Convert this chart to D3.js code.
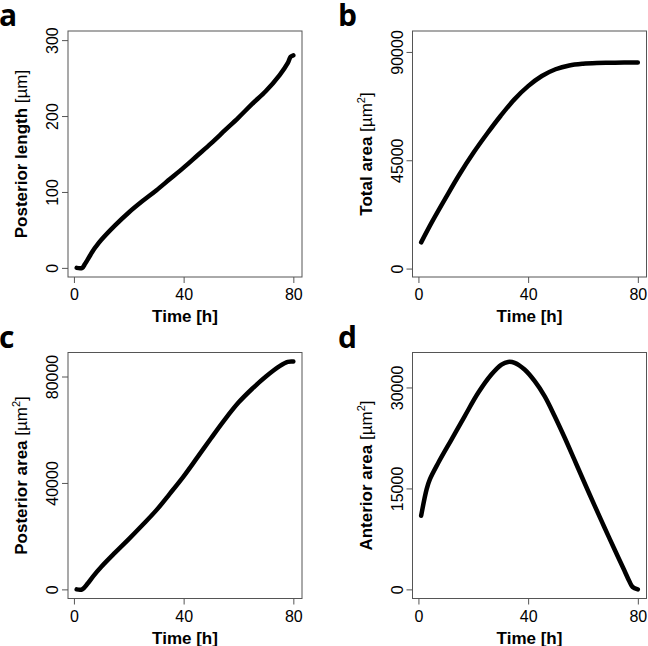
<!DOCTYPE html>
<html>
<head>
  <meta charset="UTF-8">
  <title>Growth curves</title>
  <style>
    body { margin: 0; background: #fff; }
    .box { fill: none; stroke: #555; stroke-width: 1; }
    .axis path { display: none; }
    .axis line { stroke: #555; }
    .axis text { font-family: "Liberation Sans", Arial, sans-serif; font-size: 16px; fill: #000; }
    .title { font-family: "Liberation Sans", Arial, sans-serif; font-size: 17px; font-weight: bold; fill: #000; }
    .panel-label { font-family: "Open Sans", sans-serif; font-size: 30px; font-weight: 700; fill: #000; }
    .curve { fill: none; stroke: #000; stroke-width: 4.5; stroke-linecap: round; stroke-linejoin: round; }
  </style>
</head>
<body>
<svg id="chart"></svg>
<script src="https://d3js.org/d3.v7.min.js"></script>
<script>

// data (time in hours)
var timeA = [1, 3, 4, 5, 6, 7, 8, 10, 15, 20, 25, 30, 35, 40, 45, 50, 55, 60, 65, 70, 75, 78, 79, 80];
var posteriorLength = [0, 0, 5, 11, 17, 23, 28, 37, 56, 73, 88, 102, 117, 132, 148, 164, 181, 198, 216, 233, 254, 270, 278, 280];

var timeB = [1, 5, 10, 15, 20, 25, 30, 35, 40, 45, 50, 55, 60, 65, 70, 75, 80];
var totalArea = [10900, 19500, 29500, 39200, 48000, 56000, 63500, 70300, 75800, 80000, 82800, 84400, 85100, 85400, 85500, 85600, 85600];

var timeC = [1, 3, 5, 7, 10, 15, 20, 25, 30, 35, 40, 45, 50, 55, 60, 65, 70, 75, 78, 80];
var posteriorArea = [0, 0, 2200, 4900, 8500, 13800, 18900, 24200, 29700, 36000, 42500, 49600, 56800, 63800, 70200, 75400, 80000, 83900, 85500, 85600];

var timeD = [1, 3, 4.2, 7.3, 12.1, 16.9, 21.8, 26.6, 30.3, 32.7, 35.1, 38.7, 42.4, 46, 49.6, 53.3, 56.9, 60.5, 64.2, 67.8, 71.4, 75.1, 76.9, 78.1, 80];
var anteriorArea = [10950, 14900, 16380, 18850, 22300, 25750, 29200, 31920, 33400, 33790, 33650, 32660, 30930, 28710, 25800, 22560, 19230, 15880, 12480, 9240, 6040, 2800, 1200, 350, 0];

var timeTicks = [0, 40, 80];
var ticksA = [0, 100, 200, 300];
var ticksB = [0, 45000, 90000];
var ticksC = [0, 40000, 80000];
var ticksD = [0, 15000, 30000];

let width = 648, height = 646;
let svg = d3.select("#chart").attr("width", width).attr("height", height);

var panelW = 234, panelH = 246;
var lefts = [68, 412.5], tops = [31, 352.5];
var labelX = [-1, 338];

var panels = [
  {label: "a", col: 0, row: 0, t: timeA, v: posteriorLength, ticks: ticksA, ydom: [-12, 312], name: "Posterior length ", sup: false},
  {label: "b", col: 1, row: 0, t: timeB, v: totalArea, ticks: ticksB, ydom: [-3500, 98700], name: "Total area ", sup: true},
  {label: "c", col: 0, row: 1, t: timeC, v: posteriorArea, ticks: ticksC, ydom: [-3424, 89024], name: "Posterior area ", sup: true},
  {label: "d", col: 1, row: 1, t: timeD, v: anteriorArea, ticks: ticksD, ydom: [-1354, 35194], name: "Anterior area ", sup: true}
];

panels.forEach(function(p) {
  var left = lefts[p.col], top = tops[p.row];
  var g = svg.append("g").attr("transform", "translate(" + left + "," + top + ")");

  var x = d3.scaleLinear().domain([-2.16, 83.16]).range([0, panelW]);
  var y = d3.scaleLinear().domain(p.ydom).range([panelH, 0]);

  // x axis
  var xa = g.append("g").attr("class", "axis")
    .attr("transform", "translate(0," + panelH + ")")
    .call(d3.axisBottom(x).tickValues(timeTicks).tickSize(6).tickSizeOuter(0));
  xa.selectAll("text").attr("y", 23).attr("dy", 0);

  // y axis, labels turned like R's default
  var ya = g.append("g").attr("class", "axis")
    .call(d3.axisLeft(y).tickValues(p.ticks).tickSize(6).tickSizeOuter(0).tickFormat(d3.format("d")));
  ya.selectAll("text")
    .attr("x", 0).attr("y", 0).attr("dy", 0)
    .attr("text-anchor", "middle")
    .attr("transform", "translate(-10,0) rotate(-90)");

  g.append("rect").attr("class", "box").attr("x", 0).attr("y", 0).attr("width", panelW).attr("height", panelH);

  var line = d3.line()
    .x(function(d, i) { return x(p.t[i]); })
    .y(function(d) { return y(d); })
    .curve(d3.curveCatmullRom.alpha(0.5));
  g.append("path").attr("class", "curve").attr("d", line(p.v));

  // titles
  g.append("text").attr("class", "title")
    .attr("x", panelW / 2).attr("y", panelH + 45)
    .attr("text-anchor", "middle").text("Time [h]");

  var yt = g.append("text").attr("class", "title")
    .attr("text-anchor", "middle")
    .attr("transform", "translate(-41," + (panelH / 2) + ") rotate(-90)");
  yt.append("tspan").text(p.name);
  yt.append("tspan").attr("font-weight", "normal").text("[\u00b5m");
  if (p.sup) {
    yt.append("tspan").attr("font-weight", "normal").attr("font-size", "11px").attr("dy", -7).text("2");
    yt.append("tspan").attr("font-weight", "normal").attr("dy", 7).text("]");
  } else {
    yt.append("tspan").attr("font-weight", "normal").text("]");
  }

  svg.append("text").attr("class", "panel-label")
    .attr("x", labelX[p.col]).attr("y", top - 5)
    .text(p.label);
});

</script>
</body>
</html>
